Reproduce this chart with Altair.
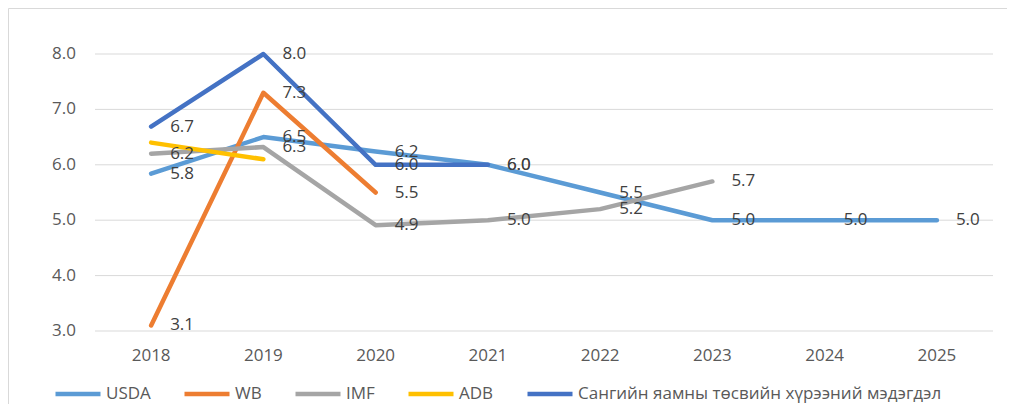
import altair as alt
import pandas as pd

years = ["2018", "2019", "2020", "2021", "2022", "2023", "2024", "2025"]
series_names = ["USDA", "WB", "IMF", "ADB", "Сангийн яамны төсвийн хүрээний мэдэгдэл"]
usda = [5.84, 6.5, 6.24, 6.0, 5.5, 5.0, 5.0, 5.0]
wb = [3.1, 7.3, 5.5, None, None, None, None, None]
imf = [6.2, 6.32, 4.91, 5.0, 5.2, 5.7, None, None]
adb = [6.4, 6.1, None, None, None, None, None, None]
ministry = [6.69, 8.0, 6.0, 6.0, None, None, None, None]
colors = ["#5B9BD5", "#ED7D31", "#A5A5A5", "#FFC000", "#4472C4"]
show_labels = [True, True, True, False, True]
y_ticks = [3, 4, 5, 6, 7, 8]

rows = []
for si, (name, vals, lab) in enumerate(zip(series_names, [usda, wb, imf, adb, ministry], show_labels)):
    for yr, v in zip(years, vals):
        if v is not None:
            rows.append({"series": name, "year": yr, "value": v, "label": lab, "si": si})
df = pd.DataFrame(rows)
ticks_df = pd.DataFrame({"value": y_ticks})
years_df = pd.DataFrame({"year": years})

FONT = "Open Sans"
W, H = 898, 277

x_scale = alt.Scale(type="point", padding=0.5, domain=years)
y_scale = alt.Scale(domain=[3, 8], nice=False, zero=False)

color_enc = alt.Color(
    "series:N",
    scale=alt.Scale(domain=series_names, range=colors),
    sort=series_names,
    legend=alt.Legend(title=None, orient="none", legendX=-42, legendY=315, direction="horizontal",
                      columns=5, symbolType="stroke", symbolSize=2025, symbolStrokeWidth=4.5,
                      labelFontSize=17, labelFont=FONT, labelColor="#595959", labelOffset=3,
                      labelLimit=600, columnPadding=24, padding=0),
)

grid = alt.Chart(ticks_df).mark_rule(color="#D9D9D9", strokeWidth=1).encode(
    y=alt.Y("value:Q", scale=y_scale, axis=None),
    x=alt.value(0),
    x2=alt.value(W),
)

y_labels = alt.Chart(ticks_df).mark_text(
    align="right", baseline="middle", fontSize=17, font=FONT, color="#595959"
).encode(
    y=alt.Y("value:Q", scale=y_scale, axis=None),
    x=alt.value(-19),
    text=alt.Text("value:Q", format=".1f"),
)

x_labels = alt.Chart(years_df).mark_text(
    align="center", baseline="middle", fontSize=17, font=FONT, color="#595959"
).encode(
    x=alt.X("year:O", scale=x_scale, axis=None),
    y=alt.value(H + 25),
    text="year:N",
)

lines = alt.Chart(df).mark_line(strokeWidth=4.5, strokeCap="round", strokeJoin="round").encode(
    x=alt.X("year:O", scale=x_scale, axis=None),
    y=alt.Y("value:Q", scale=y_scale, axis=None),
    color=color_enc,
    order=alt.Order("year:O"),
)

labels = alt.Chart(df).transform_filter("datum.label").mark_text(
    align="left", baseline="middle", dx=19, fontSize=17, font=FONT, color="#404040"
).encode(
    x=alt.X("year:O", scale=x_scale, axis=None),
    y=alt.Y("value:Q", scale=y_scale, axis=None),
    text=alt.Text("value:Q", format=".1f"),
)

one = pd.DataFrame({"a": [0]})
border_top = alt.Chart(one).mark_rule(color="#D9D9D9", strokeWidth=1).encode(
    x=alt.value(-86.5), x2=alt.value(912), y=alt.value(-45.5)
)
border_left = alt.Chart(one).mark_rule(color="#D9D9D9", strokeWidth=1).encode(
    x=alt.value(-86.5), y=alt.value(-45.5), y2=alt.value(400)
)

chart = (
    alt.layer(border_top, border_left, grid, y_labels, x_labels, lines, labels,
              view=alt.ViewBackground(stroke="transparent", strokeWidth=0))
    .properties(
        width=W,
        height=H,
        autosize=alt.AutoSizeParams(type="none"),
        padding={"left": 87, "top": 46, "right": 14, "bottom": 73},
    )
    .configure(background="white")
    .configure_view(stroke="transparent", strokeWidth=0)
)

chart.save("out.html", embed_options={"renderer": "svg", "actions": False})
